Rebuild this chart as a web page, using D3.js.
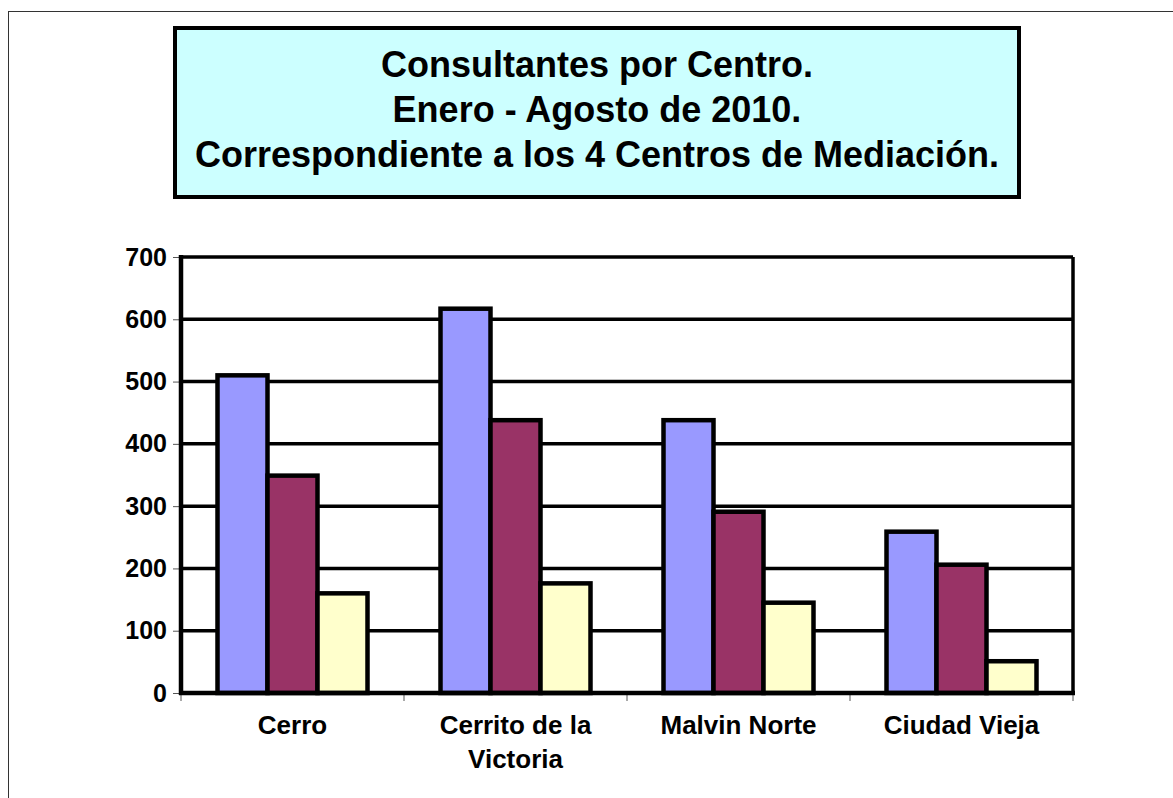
<!DOCTYPE html>
<html>
<head>
<meta charset="utf-8">
<script src="https://cdn.jsdelivr.net/npm/d3@7"></script>
<style>
  body { margin: 0; background: #fff; }
  text { font-family: "Liberation Sans", Arial, sans-serif; font-weight: bold; }
</style>
</head>
<body>
<div id="chart"></div>
<script>
// data
var categories = ["Cerro", "Cerrito de la Victoria", "Malvin Norte", "Ciudad Vieja"];
var seriesNames = ["s1", "s2", "s3"];
var serie1 = [510, 617, 438, 259];
var serie2 = [349, 438, 291, 206];
var serie3 = [160, 176, 145, 51];
var yTicks = [0, 100, 200, 300, 400, 500, 600, 700];
var titleLines = ["Consultantes por Centro.", "Enero - Agosto de 2010.", "Correspondiente a los 4 Centros de Mediación."];
var colors = ["#9999FF", "#993366", "#FFFFCC"];

var W = 1173, H = 798;
var margin = {top: 257, right: 100, bottom: 105, left: 181},
    width = W - margin.left - margin.right,
    height = H - margin.top - margin.bottom;

var svg = d3.select("#chart")
  .append("svg")
    .attr("width", W)
    .attr("height", H);

// outer chart border
svg.append("rect")
  .attr("x", 8.5).attr("y", 11.5)
  .attr("width", W).attr("height", H)
  .attr("fill", "none")
  .attr("stroke", "#333")
  .attr("stroke-width", 1);

// title box
svg.append("rect")
  .attr("x", 175).attr("y", 28)
  .attr("width", 844).attr("height", 169)
  .attr("fill", "#CCFFFF")
  .attr("stroke", "#000")
  .attr("stroke-width", 4);

svg.selectAll(".title")
  .data(titleLines)
  .enter()
  .append("text")
    .attr("x", 597)
    .attr("y", function(d, i) { return 77 + i * 45; })
    .attr("text-anchor", "middle")
    .style("font-size", "36px")
    .text(function(d) { return d; });

var g = svg.append("g")
  .attr("transform", "translate(" + margin.left + "," + margin.top + ")");

// scales
var x0 = d3.scaleBand()
  .domain(categories)
  .range([0, width])
  .paddingInner(0)
  .paddingOuter(0);

var x1 = d3.scaleBand()
  .domain(seriesNames)
  .range([0, x0.bandwidth()])
  .paddingInner(0)
  .paddingOuter(0.73);

var y = d3.scaleLinear()
  .domain([0, 700])
  .range([height, 0]);

// gridlines
g.selectAll(".grid")
  .data(yTicks.slice(1))
  .enter()
  .append("line")
    .attr("x1", 0).attr("x2", width)
    .attr("y1", function(d) { return y(d); })
    .attr("y2", function(d) { return y(d); })
    .attr("stroke", "#000")
    .attr("stroke-width", 3.5);

// right border of plot area
g.append("line")
  .attr("x1", width).attr("x2", width)
  .attr("y1", 0).attr("y2", height)
  .attr("stroke", "#000").attr("stroke-width", 3.5);

// bars
var data = categories.map(function(c, i) {
  return {cat: c, values: [serie1[i], serie2[i], serie3[i]]};
});

var groups = g.selectAll(".grp")
  .data(data)
  .enter()
  .append("g")
    .attr("transform", function(d) { return "translate(" + x0(d.cat) + ",0)"; });

groups.selectAll("rect")
  .data(function(d) { return d.values.map(function(v, j) { return {key: seriesNames[j], v: v, j: j}; }); })
  .enter()
  .append("rect")
    .attr("x", function(d) { return x1(d.key); })
    .attr("y", function(d) { return y(d.v); })
    .attr("width", x1.bandwidth())
    .attr("height", function(d) { return height - y(d.v); })
    .attr("fill", function(d) { return colors[d.j]; })
    .attr("stroke", "#000")
    .attr("stroke-width", 4.5);

// y axis
var yAxis = g.append("g")
  .call(d3.axisLeft(y).tickValues(yTicks).tickSize(8).tickPadding(6));
yAxis.select(".domain").remove();
yAxis.selectAll(".tick line").attr("stroke", "#555").attr("stroke-width", 1);
yAxis.selectAll("text")
  .style("font-size", "25px")
  .style("font-family", "Liberation Sans, Arial, sans-serif")
  .style("font-weight", "bold")
  .attr("fill", "#000");

g.append("line")
  .attr("x1", 0).attr("x2", 0)
  .attr("y1", -2).attr("y2", height + 2)
  .attr("stroke", "#000").attr("stroke-width", 4.5);

// x axis ticks at category boundaries
var bounds = categories.map(function(c) { return x0(c); }).concat([width]);
g.selectAll(".xtick")
  .data(bounds)
  .enter()
  .append("line")
    .attr("x1", function(d) { return d; })
    .attr("x2", function(d) { return d; })
    .attr("y1", height).attr("y2", height + 8)
    .attr("stroke", "#555").attr("stroke-width", 1);

g.append("line")
  .attr("x1", -2).attr("x2", width + 2)
  .attr("y1", height).attr("y2", height)
  .attr("stroke", "#000").attr("stroke-width", 4.5);

// x labels, wrapped like the original
var xLabels = {"Cerrito de la Victoria": ["Cerrito de la", "Victoria"]};
g.selectAll(".xlab")
  .data(categories)
  .enter()
  .append("text")
    .attr("text-anchor", "middle")
    .attr("x", function(d) { return x0(d) + x0.bandwidth() / 2; })
    .attr("y", height + 41)
    .style("font-size", "26px")
    .each(function(d) {
      var lines = xLabels[d] || [d];
      var t = d3.select(this);
      lines.forEach(function(l, i) {
        t.append("tspan")
          .attr("x", x0(d) + x0.bandwidth() / 2)
          .attr("dy", i === 0 ? 0 : 34)
          .text(l);
      });
    });
</script>
</body>
</html>
